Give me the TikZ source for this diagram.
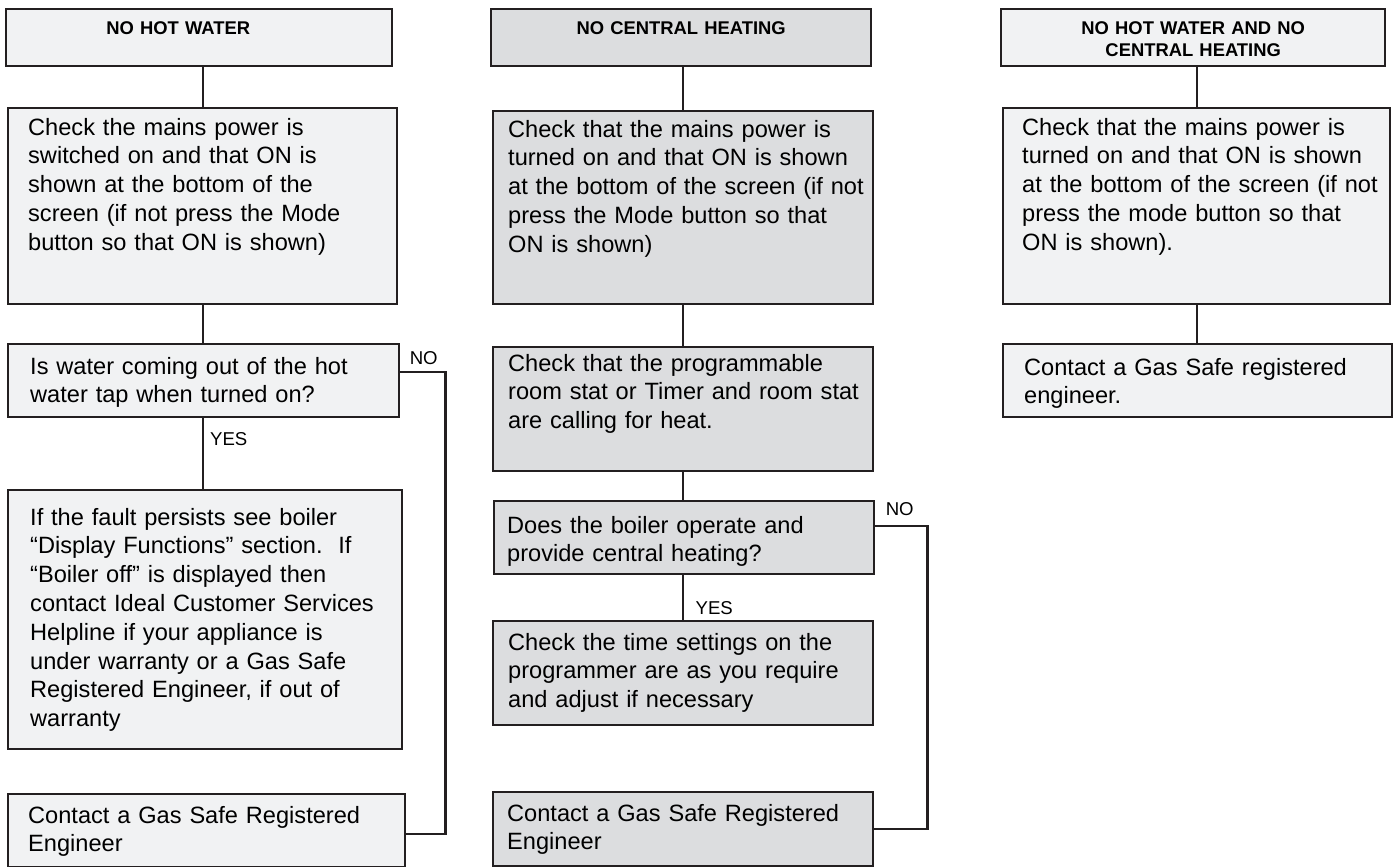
\documentclass[tikz,border=0pt]{standalone}
\usepackage{fontspec}
\setmainfont{Liberation Sans}
\usetikzlibrary{calc}
\definecolor{lineC}{RGB}{35,31,32}
\definecolor{paleC}{RGB}{241,242,243}
\definecolor{greyC}{RGB}{220,221,223}
\begin{document}
\begin{tikzpicture}[x=0.5pt,y=-0.5pt,
  frame/.style={draw=lineC, line width=1.2pt, fill=paleC, anchor=north west},
  box/.style={frame, align=left, inner xsep=10pt, inner ysep=5pt, text height=8.4pt,
    font=\bodyFont, execute at begin node={\rightskip=-30pt plus 1fil\relax}},
  boxgrey/.style={box, fill=greyC, inner xsep=7.5pt},
  head/.style={frame, align=center, inner xsep=5pt, inner ysep=6.2pt,
    text height=6.6pt, text depth=9.5pt, font=\headFont},
  link/.style={draw=lineC, line width=1.2pt},
  lbl/.style={inner sep=0pt, anchor=west, font=\lblFont}]
    \newcommand{\bodyFont}{\fontsize{11.8}{14.4}\selectfont}
    \newcommand{\headFont}{\fontsize{9.2}{11}\selectfont\bfseries}
    \newcommand{\lblFont}{\fontsize{9.3}{11}\selectfont}
\useasboundingbox (0,0) rectangle (1398,867);

% no hot water
\node[head, text width=183pt] (h1) at (5,8) {\hspace*{-21pt}NO HOT WATER};
\node[box, text width=174.5pt, text depth=79.6pt] (b1) at (7,107)
  {Check the mains power is\\switched on and that ON is\\shown at the bottom of the\\screen (if not press the Mode\\button so that ON is shown)};
\node[box, inner xsep=11pt, text width=173.5pt, text height=9.9pt, text depth=16.6pt] (q1) at (7,343)
  {Is water coming out of the hot\\water tap when turned on?};
\node[box, inner xsep=11pt, text width=175pt, text height=12.4pt, text depth=107.1pt] (d1) at (7,489)
  {If the fault persists see boiler\\“Display Functions” section.\ \ If\\“Boiler off” is displayed then\\contact Ideal Customer Services\\Helpline if your appliance is\\under warranty or a Gas Safe\\Registered Engineer, if out of\\warranty};
\node[box, text width=178.5pt, text height=9.4pt, text depth=17.1pt] (c1) at (7,793)
  {Contact a Gas Safe Registered\\Engineer};

\draw[link] (b1.north |- h1.south) -- (b1.north);
\draw[link] (b1.south) -- (b1.south |- q1.north);
\draw[link] (b1.south |- q1.south) -- (b1.south |- d1.north);
\draw[link] ([yshift=4.25pt]q1.east) -- ++(22.5pt,0pt) |- ([yshift=-1.75pt]c1.east);
\node[lbl] (no1) at ($(q1.east)+(4.5pt,11.25pt)$) {NO};
\node[lbl] (yes1) at ($(b1.south |- q1.south)+(3.5pt,-10.5pt)$) {YES};

% no central heating
\node[head, fill=greyC, text width=180pt] (h2) at (490,8) {NO CENTRAL HEATING};
\node[boxgrey, text width=175pt, text height=7.9pt, text depth=78.6pt] (b2) at (492,110)
  {Check that the mains power is\\turned on and that ON is shown\\at the bottom of the screen (if not\\press the Mode button so that\\ON is shown)};
\node[boxgrey, text width=175pt, text height=6.9pt, text depth=45.1pt] (b3) at (492,346)
  {Check that the programmable\\room stat or Timer and room stat\\are calling for heat.};
\node[boxgrey, inner xsep=6.5pt, text width=177pt, text height=10.9pt, text depth=15.6pt] (q2) at (493,500)
  {Does the boiler operate and\\provide central heating?};
\node[boxgrey, text width=175pt, text height=9.4pt, text depth=32.6pt] (d2) at (492,620)
  {Check the time settings on the\\programmer are as you require\\and adjust if necessary};
\node[boxgrey, inner xsep=7pt, text width=176pt, text height=9.4pt, text depth=17.6pt] (c2) at (492,791)
  {Contact a Gas Safe Registered\\Engineer};

\draw[link] (b2.north |- h2.south) -- (b2.north);
\draw[link] (b2.south) -- (b3.north);
\draw[link] (b3.south) -- (b3.south |- q2.north);
\draw[link] (b3.south |- q2.south) -- (d2.north);
\draw[link] ([yshift=5.75pt]q2.east) -- ++(26pt,0pt) |- (c2.east);
\node[lbl] (no2) at ($(q2.east)+(5pt,14.25pt)$) {NO};
\node[lbl] (yes2) at ($(b3.south |- q2.south)+(6pt,-16.5pt)$) {YES};

% both
\node[head, text width=182pt] (h3) at (1000,8) {NO HOT WATER AND NO\\CENTRAL HEATING};
\node[box, inner xsep=9.5pt, text width=174.5pt, text depth=79.6pt] (b4) at (1002,107)
  {Check that the mains power is\\turned on and that ON is shown\\at the bottom of the screen (if not\\press the mode button so that\\ON is shown).};
\node[box, inner xsep=10.5pt, text width=173.5pt, text height=10.4pt, text depth=16.1pt] (c3) at (1002,343)
  {Contact a Gas Safe registered\\engineer.};

\draw[link] (b4.north |- h3.south) -- (b4.north);
\draw[link] (b4.south) -- (b4.south |- c3.north);

\end{tikzpicture}
\end{document}
